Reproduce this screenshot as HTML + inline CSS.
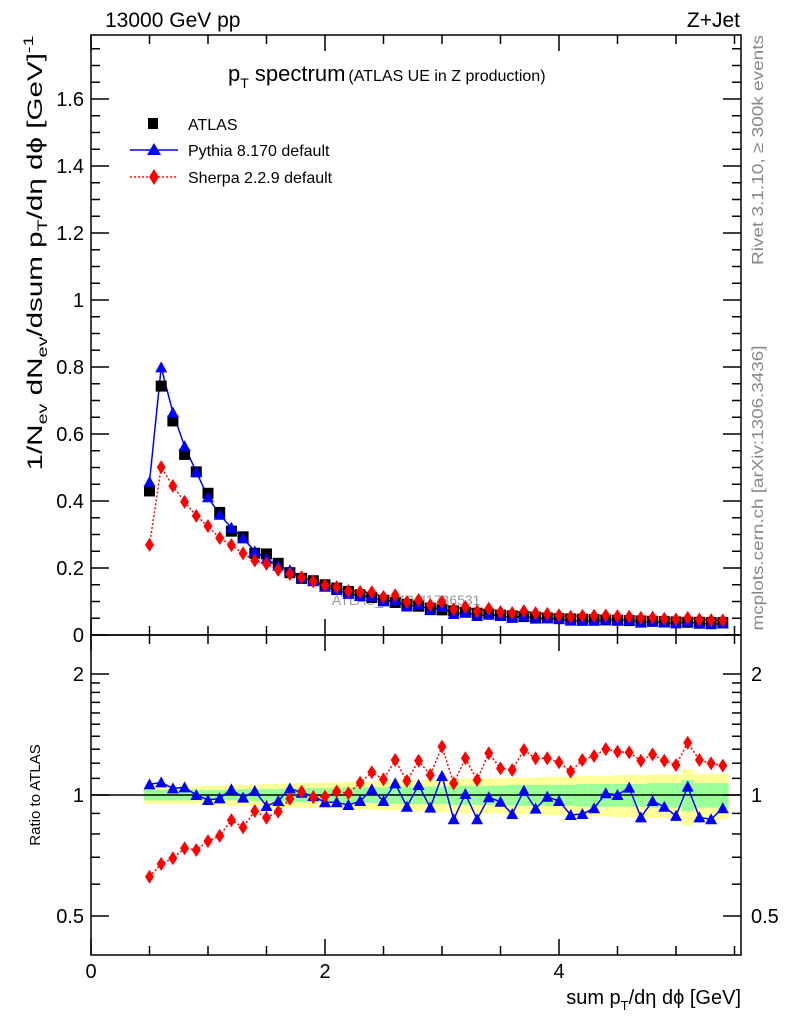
<!DOCTYPE html>
<html><head><meta charset="utf-8"><style>
body{margin:0;background:#fff;}
svg text{font-family:"Liberation Sans",sans-serif;}
</style></head><body>
<svg id="c" width="786" height="1024" xmlns="http://www.w3.org/2000/svg">
<g id="bands"></g>
<g id="axes"></g>
<text x="332" y="605" font-size="14" fill="#999">ATLAS_2019_I1736531</text>
<g id="marks"></g>
<text x="105" y="27" font-size="21">13000 GeV pp</text>
<text x="740" y="27" font-size="21" text-anchor="end">Z+Jet</text>
<text x="228" y="81" font-size="22">p<tspan font-size="14" dy="7">T</tspan><tspan dy="-7"> spectrum</tspan><tspan font-size="16" dx="3">(ATLAS UE in Z production)</tspan></text>
<g>
<rect x="148" y="118" width="10" height="11" fill="#000"/>
<text x="188" y="130" font-size="16">ATLAS</text>
<line x1="130" y1="150" x2="178" y2="150" stroke="#00f" stroke-width="1.5"/>
<polygon points="154,143 147,155 161,155" fill="#00f"/>
<text x="188" y="156" font-size="16">Pythia 8.170 default</text>
<line x1="130" y1="177" x2="178" y2="177" stroke="#f00" stroke-width="1.5" stroke-dasharray="2,2"/>
<polygon points="154,169 159,177 154,185 149,177" fill="#f00"/>
<text x="188" y="183" font-size="16">Sherpa 2.2.9 default</text>
</g>
<text transform="translate(763,150) rotate(-90)" font-size="16" fill="#888" text-anchor="middle" textLength="230" lengthAdjust="spacingAndGlyphs">Rivet 3.1.10, ≥ 300k events</text>
<text transform="translate(763,488) rotate(-90)" font-size="16" fill="#888" text-anchor="middle" textLength="285" lengthAdjust="spacingAndGlyphs">mcplots.cern.ch [arXiv:1306.3436]</text>
<text transform="translate(42,253) rotate(-90)" font-size="21" text-anchor="middle" textLength="435" lengthAdjust="spacingAndGlyphs">1/N<tspan font-size="14" dy="5">ev</tspan><tspan dy="-5"> dN</tspan><tspan font-size="14" dy="5">ev</tspan><tspan dy="-5">/dsum p</tspan><tspan font-size="14" dy="5">T</tspan><tspan dy="-5">/dη dϕ  [GeV]</tspan><tspan font-size="14" dy="-9">-1</tspan></text>
<text transform="translate(40,795) rotate(-90)" font-size="15" text-anchor="middle">Ratio to ATLAS</text>
<text x="741" y="1004" font-size="20" text-anchor="end">sum p<tspan font-size="13" dy="6">T</tspan><tspan dy="-6">/dη dϕ [GeV]</tspan></text>
</svg>
<script>
const xs=[0.5,0.6,0.7,0.8,0.9,1.0,1.1,1.2,1.3,1.4,1.5,1.6,1.7,1.8,1.9,2.0,2.1,2.2,2.3,2.4,2.5,2.6,2.7,2.8,2.9,3.0,3.1,3.2,3.3,3.4,3.5,3.6,3.7,3.8,3.9,4.0,4.1,4.2,4.3,4.4,4.5,4.6,4.7,4.8,4.9,5.0,5.1,5.2,5.3,5.4];
const atlas=[0.430,0.743,0.639,0.539,0.487,0.423,0.366,0.310,0.293,0.244,0.242,0.214,0.186,0.169,0.162,0.150,0.140,0.130,0.120,0.112,0.104,0.097,0.091,0.086,0.080,0.075,0.072,0.068,0.065,0.062,0.059,0.057,0.055,0.053,0.051,0.049,0.048,0.047,0.046,0.045,0.044,0.043,0.042,0.041,0.040,0.039,0.038,0.038,0.037,0.037];
const pythiaRatio=[1.063,1.075,1.039,1.045,1.0,0.972,0.981,1.033,0.985,1.023,0.939,0.966,1.039,1.013,0.994,0.959,0.959,0.944,0.966,1.033,0.966,1.069,0.935,1.059,0.930,1.115,0.870,1.006,0.870,0.987,0.962,0.897,1.025,0.925,0.990,0.966,0.892,0.897,0.927,1.01,1.0,1.043,0.880,0.966,0.935,0.887,1.049,0.880,0.870,0.927];
const sherpaRatio=[0.626,0.674,0.696,0.737,0.730,0.768,0.791,0.866,0.831,0.912,0.878,0.909,0.979,1.019,0.987,0.99,1.02,1.01,1.073,1.139,1.094,1.222,1.084,1.217,1.121,1.319,1.069,1.234,1.090,1.270,1.165,1.154,1.294,1.234,1.234,1.206,1.143,1.222,1.250,1.301,1.281,1.277,1.217,1.262,1.217,1.187,1.349,1.222,1.199,1.183];
const statBand=[0.03,0.03,0.03,0.03,0.03,0.03,0.03,0.03,0.035,0.035,0.035,0.035,0.04,0.04,0.04,0.04,0.04,0.045,0.045,0.045,0.045,0.05,0.05,0.05,0.05,0.05,0.055,0.055,0.055,0.055,0.055,0.06,0.06,0.06,0.06,0.06,0.06,0.065,0.065,0.065,0.065,0.065,0.065,0.07,0.07,0.07,0.09,0.07,0.07,0.07];
const totBand=[0.05,0.05,0.05,0.05,0.05,0.055,0.055,0.06,0.06,0.06,0.065,0.065,0.07,0.07,0.07,0.075,0.075,0.08,0.08,0.08,0.085,0.085,0.09,0.09,0.09,0.095,0.095,0.1,0.1,0.1,0.1,0.105,0.105,0.105,0.11,0.11,0.11,0.115,0.115,0.115,0.12,0.12,0.12,0.125,0.125,0.125,0.16,0.13,0.13,0.13];
const yTicksMain=[0,0.2,0.4,0.6,0.8,1,1.2,1.4,1.6];
const yTickLabelsMain=["0","0.2","0.4","0.6","0.8","1","1.2","1.4","1.6"];
const xTicks=[0,2,4];
const ratioTicks=[0.5,1,2];

const L=91,R=741,T=35,M=635,B=955;
const X=v=>L+v*117;
const Y=v=>M-v*335;
const YR=r=>795-Math.log2(r)*121;
const NS="http://www.w3.org/2000/svg";
function mk(p,tag,a){const e=document.createElementNS(NS,tag);for(const k in a)e.setAttribute(k,a[k]);p.appendChild(e);return e;}
const bands=document.getElementById('bands'),axes=document.getElementById('axes'),marks=document.getElementById('marks');

xs.forEach((x,i)=>{
 const x0=X(x-0.05),w=117*0.1;
 const y1=mk(bands,'rect',{x:x0,y:YR(1+totBand[i]),width:w,height:YR(1-totBand[i])-YR(1+totBand[i]),fill:'#ffff99'});
 
 
 const g1=mk(bands,'rect',{x:x0,y:YR(1+statBand[i]),width:w,height:YR(1-statBand[i])-YR(1+statBand[i]),fill:'#99ff99'});
 
 
});

mk(axes,'rect',{x:L,y:T,width:R-L,height:M-T,fill:'none',stroke:'#000','stroke-width':1.5});
mk(axes,'rect',{x:L,y:M,width:R-L,height:B-M,fill:'none',stroke:'#000','stroke-width':1.5});
mk(axes,'line',{x1:L,x2:R,y1:YR(1),y2:YR(1),stroke:'#000','stroke-width':1.5});
for(let v=0;v<=5.5;v+=0.5){
 const major=Math.abs(v%2)<1e-6, len=major?16:9;
 [[M,-1],[T,1],[B,-1]].forEach(([y0,d])=>mk(axes,'line',{x1:X(v),x2:X(v),y1:y0,y2:y0+d*len,stroke:'#000','stroke-width':1.5}));
 mk(axes,'line',{x1:X(v),x2:X(v),y1:M,y2:M+len,stroke:'#000','stroke-width':1.5});
}
xTicks.forEach(v=>{const t=mk(axes,'text',{x:X(v),y:978,'font-size':20,'text-anchor':'middle'});t.textContent=v;
 
 });
for(let v=0;v<=1.76;v+=0.05){
 const major=Math.abs((v*5)-Math.round(v*5))<1e-6,len=major?18:9;
 mk(axes,'line',{x1:L,x2:L+len,y1:Y(v),y2:Y(v),stroke:'#000','stroke-width':1.5});
 mk(axes,'line',{x1:R,x2:R-len,y1:Y(v),y2:Y(v),stroke:'#000','stroke-width':1.5});
}
yTicksMain.forEach((v,i)=>{const t=mk(axes,'text',{x:L-7,y:Y(v)+7,'font-size':20,'text-anchor':'end'});t.textContent=yTickLabelsMain[i];
 
 });
[0.5,0.6,0.7,0.8,0.9,1,1.1,1.2,1.3,1.4,1.5,1.6,1.7,1.8,1.9,2].forEach(v=>{
 const major=ratioTicks.includes(v),len=major?18:9;
 mk(axes,'line',{x1:L,x2:L+len,y1:YR(v),y2:YR(v),stroke:'#000','stroke-width':1.5});
 mk(axes,'line',{x1:R,x2:R-len,y1:YR(v),y2:YR(v),stroke:'#000','stroke-width':1.5});
});
ratioTicks.forEach(v=>{
 const t=mk(axes,'text',{x:L-7,y:YR(v)+7,'font-size':20,'text-anchor':'end'});t.textContent=v;
 
 
 const t2=mk(axes,'text',{x:751,y:YR(v)+7,'font-size':20});t2.textContent=v;
 
 
});

function tri(x,y,c,nm){const p=mk(marks,'polygon',{points:`${x},${y-6} ${x-6},${y+5} ${x+6},${y+5}`,fill:c});
 
 }
function dia(x,y,c,nm){const p=mk(marks,'polygon',{points:`${x},${y-7} ${x+4.5},${y} ${x},${y+7} ${x-4.5},${y}`,fill:c});
 
 }
const pyMain=xs.map((x,i)=>atlas[i]*pythiaRatio[i]);
const shMain=xs.map((x,i)=>atlas[i]*sherpaRatio[i]);
const l1=mk(marks,'polyline',{points:xs.map((x,i)=>X(x)+','+Y(shMain[i])).join(' '),fill:'none',stroke:'#f00','stroke-width':1.5,'stroke-dasharray':'2,2'});


const l2=mk(marks,'polyline',{points:xs.map((x,i)=>X(x)+','+Y(pyMain[i])).join(' '),fill:'none',stroke:'#00f','stroke-width':1.5});


const l3=mk(marks,'polyline',{points:xs.map((x,i)=>X(x)+','+YR(sherpaRatio[i])).join(' '),fill:'none',stroke:'#f00','stroke-width':1.5,'stroke-dasharray':'2,2'});


const l4=mk(marks,'polyline',{points:xs.map((x,i)=>X(x)+','+YR(pythiaRatio[i])).join(' '),fill:'none',stroke:'#00f','stroke-width':1.5});


xs.forEach((x,i)=>{
 const r=mk(marks,'rect',{x:X(x)-5.5,y:Y(atlas[i])-5.5,width:11,height:11,fill:'#000'});
 
 
 tri(X(x),Y(pyMain[i]),'#00f','pythia-point');
 dia(X(x),Y(shMain[i]),'#f00','sherpa-point');
 tri(X(x),YR(pythiaRatio[i]),'#00f','pythia-ratio-point');
 dia(X(x),YR(sherpaRatio[i]),'#f00','sherpa-ratio-point');
});
</script>
</body></html>
